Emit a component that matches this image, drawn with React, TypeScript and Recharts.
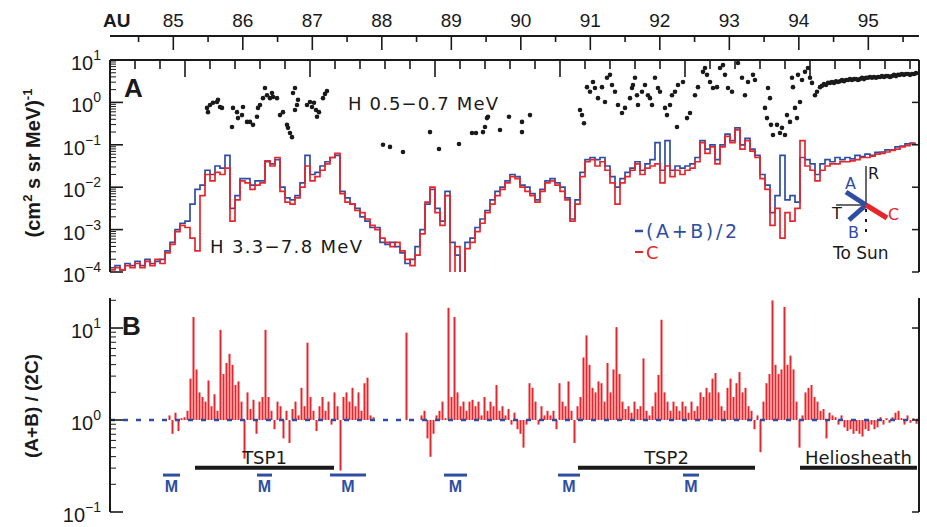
import React from "react";
import {
  ComposedChart,
  Line,
  Scatter,
  Bar,
  XAxis,
  YAxis,
  ReferenceLine,
  Customized,
} from "recharts";

// sampling of the 3.3-7.8 MeV curves (years), one value every 0.02 yr
const T0 = 2002.2;
const DT = 0.02;
// sampling of the (A+B)/(2C) ratio, one value every 0.012 yr
const R0 = 2002.44;
const RDT = 0.012;

const timeDomain = [2002.2, 2005.436];
const auDomain = [84.089, 95.729];

const timeTicks = [
  2002.3, 2002.4, 2002.5, 2002.6, 2002.7, 2002.8, 2002.9, 2003.0, 2003.1,
  2003.2, 2003.3, 2003.4, 2003.5, 2003.6, 2003.7, 2003.8, 2003.9, 2004.0,
  2004.1, 2004.2, 2004.3, 2004.4, 2004.5, 2004.6, 2004.7, 2004.8, 2004.9,
  2005.0, 2005.1, 2005.2, 2005.3, 2005.4,
];
const auTicks = [
  84.5, 85, 85.5, 86, 86.5, 87, 87.5, 88, 88.5, 89, 89.5, 90, 90.5, 91, 91.5,
  92, 92.5, 93, 93.5, 94, 94.5, 95, 95.5,
];
const decadesA = [1e-4, 1e-3, 1e-2, 1e-1, 1, 10];
const decadesB = [0.1, 1, 10];
const minorSteps = [2, 3, 4, 5, 6, 7, 8, 9];

// log10 of intensity, C telescope (red)
const cLog = [
  -3.95, -3.9, -3.95, -3.85, -3.9, -3.8, -3.9, -3.75, -3.85, -3.7,
  -3.8, -3.55, -3.35, -3.05, -2.9, -2.95, -3.2, -3.5, -2.2, -1.7,
  -1.85, -1.65, -1.7, -1.55, -2.8, -2.3, -1.85, -1.9, -2.05, -1.95,
  -1.9, -1.38, -1.5, -1.3, -2.1, -2.35, -2.4, -2.25, -2.0, -1.5,
  -1.85, -1.75, -1.6, -1.45, -1.3, -1.2, -2.15, -2.35, -2.4, -2.55,
  -2.6, -2.75, -2.9, -3.0, -3.2, -3.3, -3.4, -3.3, -3.5, -3.7,
  -3.85, -3.6, -3.1, -2.35, -2.0, -2.6, -2.9, -2.2, -4.3, -3.4,
  -4.3, -3.45, -3.3, -3.05, -2.85, -2.6, -2.4, -2.2, -2.05, -1.9,
  -1.75, -1.8, -2.0, -2.1, -2.2, -2.35, -2.1, -1.9, -1.85, -1.95,
  -2.1, -2.3, -2.8, -2.4, -1.75, -1.4, -1.35, -1.5, -1.4, -1.6,
  -1.9, -2.4, -1.9, -1.75, -1.6, -1.45, -1.7, -1.55, -1.5, -1.45,
  -1.9, -1.5, -1.75, -1.6, -1.7, -1.6, -1.55, -1.4, -0.95, -1.2,
  -1.05, -1.45, -1.05, -0.8, -0.95, -0.65, -1.1, -0.9, -1.15, -1.3,
  -1.8, -2.05, -2.9, -2.5, -3.2, -2.6, -2.8, -2.5, -0.9, -1.5,
  -1.6, -1.85, -1.6, -1.5, -1.45, -1.45, -1.4, -1.4, -1.38, -1.35,
  -1.3, -1.3, -1.27, -1.22, -1.2, -1.17, -1.13, -1.1, -1.05, -1.02,
  -0.98, -0.95,
];

// log10 of intensity, (A+B)/2 (blue)
const abLog = [
  -3.9, -3.85, -3.95, -3.8, -3.85, -3.75, -3.85, -3.7, -3.8, -3.75,
  -3.7, -3.5, -3.3, -3.0, -2.85, -2.8, -2.4, -2.05, -1.95, -1.6,
  -1.7, -1.5, -1.55, -1.25, -2.5, -2.2, -1.8, -1.8, -1.95, -1.85,
  -1.85, -1.4, -1.45, -1.35, -2.0, -2.25, -2.3, -2.2, -1.9, -1.25,
  -1.7, -1.65, -1.5, -1.4, -1.3, -1.25, -2.1, -2.25, -2.4, -2.5,
  -2.7, -2.8, -2.95, -2.95, -3.3, -3.35, -3.3, -3.4, -3.55, -3.8,
  -3.7, -3.4, -3.0, -2.4, -2.05, -2.5, -2.8, -2.1, -3.3, -3.6,
  -4.2, -3.3, -3.2, -2.95, -2.75, -2.55, -2.3, -2.1, -2.0, -1.85,
  -1.7, -1.75, -1.95, -2.0, -2.15, -2.3, -2.05, -1.85, -1.8, -1.9,
  -2.0, -2.25, -2.75, -2.3, -1.65, -1.35, -1.3, -1.35, -1.3, -1.5,
  -1.75, -2.0, -1.8, -1.65, -1.55, -1.4, -1.6, -1.45, -1.35, -0.95,
  -1.6, -0.9, -1.6, -1.5, -1.55, -1.5, -1.45, -1.3, -0.9, -1.1,
  -1.0, -1.35, -1.0, -0.75, -0.9, -0.6, -1.0, -0.85, -1.1, -1.25,
  -1.7, -1.95, -2.6, -2.2, -1.25, -2.3, -2.2, -2.35, -1.3, -1.35,
  -1.45, -1.7, -1.45, -1.35, -1.4, -1.3, -1.35, -1.3, -1.33, -1.25,
  -1.28, -1.22, -1.25, -1.18, -1.17, -1.12, -1.12, -1.05, -1.03, -0.98,
  -0.96, -0.95,
];

// H 0.5-0.7 MeV points: [year, log10 intensity]
const lowDots = [
  [2002.588, -0.13], [2002.592, -0.23], [2002.6, -0.06], [2002.612, -0.01],
  [2002.628, 0.01], [2002.632, 0.06], [2002.64, -0.11], [2002.648, -0.13],
  [2002.688, -0.58], [2002.692, -0.13], [2002.708, -0.23], [2002.712, -0.37],
  [2002.728, -0.3], [2002.732, -0.11], [2002.748, -0.46], [2002.76, -0.46],
  [2002.772, -0.53], [2002.788, -0.34], [2002.792, -0.13], [2002.8, -0.06],
  [2002.812, 0.1], [2002.82, 0.34], [2002.828, 0.17], [2002.84, 0.1],
  [2002.848, 0.22], [2002.852, 0.13], [2002.868, 0.1], [2002.88, -0.3],
  [2002.892, -0.23], [2002.908, -0.53], [2002.912, -0.6], [2002.92, -0.72],
  [2002.928, -0.82], [2002.932, 0.22], [2002.94, 0.34], [2002.94, -0.18],
  [2002.948, -0.06], [2002.952, 0.06], [2002.988, -0.06], [2003.0, 0.01],
  [2003.008, -0.11], [2003.016, -0.01], [2003.024, -0.18], [2003.028, -0.34],
  [2003.036, -0.23], [2003.052, 0.1], [2003.06, 0.2], [2003.068, 0.27],
  [2003.292, -1.0], [2003.32, -1.05], [2003.372, -1.17], [2003.48, -0.7],
  [2003.516, -1.1], [2003.596, -0.98], [2003.648, -0.72], [2003.664, -0.72],
  [2003.692, -0.7], [2003.7, -0.58], [2003.708, -0.37], [2003.712, -0.34],
  [2003.76, -0.65], [2003.796, -0.34], [2003.848, -0.46], [2003.848, -0.7],
  [2003.88, -0.3],
  [2004.08, -0.18], [2004.088, -0.3], [2004.096, -0.49], [2004.108, 0.36],
  [2004.12, 0.25], [2004.132, 0.48], [2004.14, 0.34], [2004.152, 0.1],
  [2004.168, 0.36], [2004.18, 0.01], [2004.188, 0.58], [2004.2, 0.65],
  [2004.208, 0.41], [2004.22, 0.25], [2004.232, -0.06], [2004.248, -0.25],
  [2004.26, -0.13], [2004.28, 0.1], [2004.288, 0.34], [2004.292, 0.41],
  [2004.3, 0.58], [2004.308, 0.17], [2004.312, -0.06], [2004.328, 0.25],
  [2004.34, 0.41], [2004.352, 0.17], [2004.36, 0.1], [2004.368, -0.06],
  [2004.38, 0.58], [2004.392, 0.34], [2004.4, 0.25], [2004.42, -0.13],
  [2004.428, -0.3], [2004.44, -0.06], [2004.448, 0.17], [2004.46, 0.25],
  [2004.468, -0.58], [2004.472, 0.41], [2004.492, 0.48], [2004.508, -0.37],
  [2004.52, -0.25], [2004.54, 0.17], [2004.552, 0.36], [2004.572, 0.72],
  [2004.58, 0.81], [2004.588, 0.65], [2004.6, 0.48], [2004.612, 0.34],
  [2004.628, 0.36], [2004.64, 0.81], [2004.652, 0.88], [2004.66, 0.65],
  [2004.672, 0.34], [2004.688, 0.25], [2004.712, 0.93], [2004.728, 0.58],
  [2004.74, 0.17], [2004.752, 0.48], [2004.772, 0.65], [2004.78, 0.53],
  [2004.82, -0.13], [2004.828, -0.37], [2004.832, 0.34], [2004.84, 0.1],
  [2004.844, -0.53], [2004.852, -0.77], [2004.868, -0.53], [2004.88, -0.72],
  [2004.888, -0.6], [2004.9, -0.77], [2004.908, -0.3], [2004.92, -0.46],
  [2004.928, 0.58], [2004.932, 0.36], [2004.94, -0.13], [2004.948, -0.37],
  [2004.952, 0.65], [2004.96, 0.01], [2004.968, 0.53], [2004.98, 0.72],
  [2004.992, 0.81], [2005.0, 0.58], [2005.008, 0.46], [2005.02, 0.17],
  [2005.028, 0.25], [2005.04, 0.36],
  [2005.048, 0.39], [2005.056, 0.43], [2005.064, 0.41], [2005.072, 0.46],
  [2005.08, 0.46], [2005.088, 0.48], [2005.096, 0.46], [2005.104, 0.5],
  [2005.112, 0.48], [2005.12, 0.5], [2005.128, 0.53], [2005.136, 0.5],
  [2005.144, 0.53], [2005.152, 0.53], [2005.16, 0.55], [2005.168, 0.53],
  [2005.176, 0.55], [2005.184, 0.55], [2005.192, 0.53], [2005.2, 0.55],
  [2005.208, 0.58], [2005.216, 0.55], [2005.224, 0.58], [2005.232, 0.58],
  [2005.24, 0.6], [2005.248, 0.58], [2005.256, 0.6], [2005.264, 0.58],
  [2005.272, 0.6], [2005.28, 0.6], [2005.288, 0.62], [2005.296, 0.6],
  [2005.304, 0.62], [2005.312, 0.62], [2005.32, 0.6], [2005.328, 0.62],
  [2005.336, 0.65], [2005.344, 0.62], [2005.352, 0.65], [2005.36, 0.65],
  [2005.368, 0.67], [2005.376, 0.65], [2005.384, 0.67], [2005.392, 0.67],
  [2005.4, 0.65], [2005.408, 0.67], [2005.416, 0.67], [2005.424, 0.69],
];

// log10 of (A+B)/(2C); null = no data
const ratioLog = [
  0.05, -0.15, 0.08, -0.12, 0.02, 0.03, 0.1, 0.45, 1.12, 0.55,
  0.3, 0.25, 0.2, 0.43, 0.15, 0.28, 0.1, 0.98, 0.5, 0.62,
  0.72, 0.6, 0.38, 0.42, 0.2, -0.42, 0.3, 0.12, 0.22, -0.15,
  0.2, 0.25, 0.98, 0.25, 0.1, -0.1, 0.2, 0.15, -0.2, 0.1,
  -0.25, 0.12, 0.2, 0.05, 0.35, 0.15, 0.84, 0.25, 0.1, -0.12,
  0.15, 0.25, 0.1, 0.2, -0.05, 0.3, 0.15, -0.55, 0.25, 0.3,
  0.2, 0.35, 0.15, 0.3, 0.1, 0.4, 0.46, 0.05, 0.03, null,
  null, null, null, null, null, null, null, null, null, 0.95,
  null, null, null, null, 0.05, 0.1, -0.2, -0.4, -0.15, 0.05,
  0.1, 0.2, 0.02, 1.22, 0.25, 1.12, 0.3, 0.15, 0.2, 0.1,
  0.2, 0.22, 0.15, 0.2, 0.05, 0.25, 0.1, 0.2, 0.15, 0.38,
  0.1, 0.15, 0.05, 0.12, -0.05, 0.08, -0.1, -0.15, -0.3, -0.05,
  0.4, 0.35, 0.2, -0.05, 0.15, 0.05, 0.1, 0.05, 0.1, -0.1,
  0.4, 0.2, 0.15, 0.42, 0.1, -0.25, 0.15, 0.25, 0.68, 0.92,
  0.6, 0.35, 0.3, 0.42, 0.4, 0.2, 0.62, 0.3, 0.55, 1.01,
  0.5, 0.2, 0.12, 0.15, 0.08, 0.2, 0.12, 0.15, 0.67, 0.1,
  0.05, 0.15, 0.3, 0.49, 1.09, 0.3, 0.2, 0.1, 0.2, 0.15,
  0.1, 0.2, 0.15, 0.08, 0.2, 0.1, 0.15, 0.3, 0.25, 0.35,
  0.3, 0.45, 0.51, 0.3, 0.15, 0.1, 0.35, 0.45, 0.25, 0.4,
  0.52, 0.3, 0.35, 0.15, 0.1, -0.1, 0.05, -0.35, 0.2, 0.4,
  0.5, 1.3, 0.6, 0.5, 0.55, 1.23, 0.6, 0.7, 0.55, 0.2,
  -0.3, 0.05, 0.3, 0.35, 0.38, 0.25, 0.2, 0.1, 0.12, -0.2,
  0.08, 0.05, 0.03, -0.05, 0.05, -0.08, -0.12, -0.1, -0.15, -0.12,
  -0.15, -0.18, -0.1, -0.12, -0.05, -0.1, -0.08, 0.03, -0.05, 0.02,
  -0.03, 0.03, 0.08, 0.1, 0.02, -0.05, 0.05, -0.03, 0.02, -0.04,
];

const periods = [
  { label: "TSP1", start: 2002.54, end: 2003.096 },
  { label: "TSP2", start: 2004.072, end: 2004.78 },
  { label: "Heliosheath", start: 2004.96, end: 2005.428 },
];
const PERIOD_LEVEL = 0.303;

const mMarks = [
  [2002.412, 2002.48],
  [2002.788, 2002.848],
  [2003.08, 2003.224],
  [2003.536, 2003.628],
  [2003.992, 2004.08],
  [2004.492, 2004.556],
];
const M_LEVEL = 0.252;

const BLUE = "#2f4ea3";
const RED = "#e8252b";
const INK = "#1a1a1a";
const AXIS_FONT = "'Liberation Sans', Arial, sans-serif";
const NOTE_FONT = "'DejaVu Sans', 'Liberation Sans', sans-serif";

const lineData = cLog.map((c, i) => ({
  t: T0 + i * DT,
  c: Math.pow(10, c),
  ab: Math.pow(10, abLog[i]),
}));
const dotData = lowDots.map(([t, v]) => ({ t, v: Math.pow(10, v) }));
const ratioData = ratioLog
  .map((r, j) => (r === null ? null : { t: R0 + j * RDT, r: Math.pow(10, r) }))
  .filter((d) => d !== null);

const withMinors = (decades: number[], top: number) => {
  const out: number[] = [];
  decades.forEach((d) => {
    out.push(d);
    minorSteps.forEach((m) => {
      if (m * d <= top) out.push(m * d);
    });
  });
  return out;
};
const yTicksA = withMinors(decadesA, 10);
const yTicksB = withMinors(decadesB, 21);

const isDecade = (v: number) =>
  Math.abs(Math.log10(v) - Math.round(Math.log10(v))) < 1e-6;
const isHalfYear = (v: number) => Math.abs(v * 2 - Math.round(v * 2)) < 1e-6;
const isWhole = (v: number) => Math.abs(v - Math.round(v)) < 1e-6;

const LeftTick = (props: any) => {
  const { x, y, payload } = props;
  const v = payload.value;
  const major = isDecade(v);
  const e = Math.round(Math.log10(v));
  return (
    <g>
      <line x1={x} x2={x + (major ? 13 : 6)} y1={y} y2={y} stroke={INK} strokeWidth={major ? 1.6 : 1} />
      {major && (
        <text x={x - 9} y={y + 10} textAnchor="end" fontSize={20} fontFamily={AXIS_FONT} fill={INK}>
          10
          <tspan dy={-10} fontSize={14}>
            {e < 0 ? `\u2212${-e}` : `${e}`}
          </tspan>
        </text>
      )}
    </g>
  );
};

const RightTick = (props: any) => {
  const { x, y } = props;
  return <line x1={x} x2={x - 7} y1={y} y2={y} stroke={INK} strokeWidth={1.5} />;
};

const BottomTick = (props: any) => {
  const { x, y, payload } = props;
  const len = isHalfYear(payload.value) ? 17 : 9;
  return <line x1={x} x2={x} y1={y} y2={y - len} stroke={INK} strokeWidth={1.6} />;
};

const TopTick = (props: any) => {
  const { x, y, payload } = props;
  const len = isHalfYear(payload.value) ? 17 : 9;
  return <line x1={x} x2={x} y1={y} y2={y + len} stroke={INK} strokeWidth={1.6} />;
};

const AuTick = (props: any) => {
  const { x, y, payload } = props;
  const whole = isWhole(payload.value);
  return (
    <g>
      <line x1={x} x2={x} y1={y} y2={y + (whole ? 14 : 6)} stroke={INK} strokeWidth={1.6} />
      {whole && (
        <text x={x} y={y - 9} textAnchor="middle" fontSize={19} fontFamily={AXIS_FONT} fill={INK}>
          {payload.value}
        </text>
      )}
    </g>
  );
};

const DotShape = (props: any) => <circle cx={props.cx} cy={props.cy} r={2.3} fill={INK} />;

const axisLine = { stroke: INK, strokeWidth: 2 };

const DecorA = () => (
  <g>
    <text x={103} y={27} fontSize={19} fontWeight="bold" fontFamily={AXIS_FONT} fill={INK}>
      AU
    </text>
    <text x={124} y={97} fontSize={26} fontWeight="bold" fontFamily={AXIS_FONT} fill={INK}>
      A
    </text>
    <text
      transform="translate(40,163) rotate(-90)"
      textAnchor="middle"
      fontSize={20}
      fontWeight="bold"
      fontFamily={AXIS_FONT}
      fill={INK}
    >
      (cm<tspan dy={-8} fontSize={13}>2</tspan>
      <tspan dy={8}> s sr MeV)</tspan>
      <tspan dy={-8} fontSize={13}>-1</tspan>
    </text>
    <text x={348} y={110} fontSize={18} fontFamily={NOTE_FONT} fill={INK} textLength={150}>
      H 0.5−0.7 MeV
    </text>
    <text x={210} y={253} fontSize={18} fontFamily={NOTE_FONT} fill={INK} textLength={152}>
      H 3.3−7.8 MeV
    </text>
    <line x1={635} x2={643} y1={231} y2={231} stroke={BLUE} strokeWidth={2.5} />
    <text x={646} y={238} fontSize={19} fontFamily={NOTE_FONT} fill={BLUE} textLength={91}>
      (A+B)/2
    </text>
    <line x1={635} x2={643} y1={252} y2={252} stroke={RED} strokeWidth={2} />
    <text x={646} y={259} fontSize={18} fontFamily={NOTE_FONT} fill={RED}>
      C
    </text>
    <line x1={866} x2={866} y1={166} y2={205} stroke={INK} strokeWidth={1.3} />
    <line x1={866} x2={866} y1={209} y2={236} stroke={INK} strokeWidth={2} strokeDasharray="3 7" />
    <line x1={836} x2={866} y1={205} y2={205} stroke={INK} strokeWidth={1.3} />
    <line x1={866} x2={846} y1={205} y2={192} stroke={BLUE} strokeWidth={5} />
    <line x1={866} x2={849} y1={205} y2={220} stroke={BLUE} strokeWidth={5} />
    <line x1={866} x2={887} y1={205} y2={218} stroke={RED} strokeWidth={5} />
    <text x={868} y={179} fontSize={16} fontFamily={NOTE_FONT} fill={INK}>R</text>
    <text x={832} y={219} fontSize={16} fontFamily={NOTE_FONT} fill={INK}>T</text>
    <text x={845} y={189} fontSize={16} fontFamily={NOTE_FONT} fill={BLUE}>A</text>
    <text x={848} y={238} fontSize={16} fontFamily={NOTE_FONT} fill={BLUE}>B</text>
    <text x={888} y={220} fontSize={16} fontFamily={NOTE_FONT} fill={RED}>C</text>
    <text x={833} y={259} fontSize={17} fontFamily={NOTE_FONT} fill={INK}>To Sun</text>
  </g>
);

const DecorB = () => (
  <g>
    <text x={122} y={55} fontSize={26} fontWeight="bold" fontFamily={AXIS_FONT} fill={INK}>
      B
    </text>
    <text
      transform="translate(38,126) rotate(-90)"
      textAnchor="middle"
      fontSize={19}
      fontWeight="bold"
      fontFamily={AXIS_FONT}
      fill={INK}
    >
      (A+B) / (2C)
    </text>
  </g>
);

export default function App() {
  return (
    <div style={{ position: "absolute", left: 0, top: 0, width: 927, height: 527, background: "#fff" }}>
      <div style={{ position: "absolute", left: 0, top: 0 }}>
        <ComposedChart width={927} height={292} data={lineData} margin={{ top: 6, right: 7, bottom: 20, left: 70 }}>
          <XAxis
            dataKey="t"
            type="number"
            domain={timeDomain}
            allowDataOverflow
            ticks={timeTicks}
            interval={0}
            height={0}
            tickSize={0}
            tickMargin={0}
            tick={BottomTick}
            tickLine={false}
            axisLine={axisLine}
          />
          <XAxis
            xAxisId="inner"
            dataKey="t"
            type="number"
            orientation="top"
            domain={timeDomain}
            allowDataOverflow
            ticks={timeTicks}
            interval={0}
            height={24}
            tickSize={0}
            tickMargin={0}
            tick={TopTick}
            tickLine={false}
            axisLine={axisLine}
          />
          <XAxis
            xAxisId="outer"
            dataKey="t"
            type="number"
            orientation="top"
            domain={auDomain}
            allowDataOverflow
            ticks={auTicks}
            interval={0}
            height={30}
            tickSize={0}
            tickMargin={0}
            tick={AuTick}
            tickLine={false}
            axisLine={axisLine}
          />
          <YAxis
            scale="log"
            type="number"
            domain={[1e-4, 10]}
            allowDataOverflow
            ticks={yTicksA}
            interval={0}
            width={40}
            tickSize={0}
            tickMargin={0}
            tick={LeftTick}
            tickLine={false}
            axisLine={axisLine}
          />
          <YAxis
            yAxisId="r"
            orientation="right"
            scale="log"
            type="number"
            domain={[1e-4, 10]}
            allowDataOverflow
            ticks={decadesA}
            interval={0}
            width={1}
            tickSize={0}
            tickMargin={0}
            tick={RightTick}
            tickLine={false}
            axisLine={axisLine}
          />
          <Line dataKey="ab" type="stepAfter" stroke={BLUE} strokeWidth={1.7} dot={false} isAnimationActive={false} />
          <Line dataKey="c" type="stepAfter" stroke={RED} strokeWidth={1.7} dot={false} isAnimationActive={false} />
          <Scatter data={dotData} dataKey="v" shape={DotShape} isAnimationActive={false} />
          <Customized component={DecorA} />
        </ComposedChart>
      </div>
      <div style={{ position: "absolute", left: 0, top: 280 }}>
        <ComposedChart width={927} height={247} data={ratioData} margin={{ top: 18, right: 7, bottom: 15, left: 70 }}>
          <XAxis
            dataKey="t"
            type="number"
            domain={timeDomain}
            allowDataOverflow
            ticks={timeTicks}
            interval={0}
            height={0}
            tickSize={0}
            tickMargin={0}
            tick={BottomTick}
            tickLine={false}
            axisLine={axisLine}
          />
          <XAxis
            xAxisId="inner"
            dataKey="t"
            type="number"
            orientation="top"
            domain={timeDomain}
            allowDataOverflow
            ticks={timeTicks}
            interval={0}
            height={0}
            tickSize={0}
            tickMargin={0}
            tick={TopTick}
            tickLine={false}
            axisLine={axisLine}
          />
          <YAxis
            scale="log"
            type="number"
            domain={[0.1, 21.2]}
            allowDataOverflow
            ticks={yTicksB}
            interval={0}
            width={40}
            tickSize={0}
            tickMargin={0}
            tick={LeftTick}
            tickLine={false}
            axisLine={axisLine}
          />
          <YAxis
            yAxisId="r"
            orientation="right"
            scale="log"
            type="number"
            domain={[0.1, 21.2]}
            allowDataOverflow
            ticks={decadesB}
            interval={0}
            width={1}
            tickSize={0}
            tickMargin={0}
            tick={RightTick}
            tickLine={false}
            axisLine={axisLine}
          />
          <Bar dataKey={(d: any) => [1, d.r]} fill={RED} barSize={2} isAnimationActive={false} />
          <ReferenceLine y={1} stroke={BLUE} strokeWidth={2.5} strokeDasharray="5 8" />
          {periods.map((p) => (
            <ReferenceLine
              key={p.label}
              segment={[
                { x: p.start, y: PERIOD_LEVEL },
                { x: p.end, y: PERIOD_LEVEL },
              ]}
              stroke={INK}
              strokeWidth={4}
              label={{ value: p.label, position: "top", offset: 4, fontSize: 18, fontFamily: NOTE_FONT, fill: INK }}
            />
          ))}
          {mMarks.map(([a, b]) => (
            <ReferenceLine
              key={a}
              segment={[
                { x: a, y: M_LEVEL },
                { x: b, y: M_LEVEL },
              ]}
              stroke={BLUE}
              strokeWidth={3}
              label={{ value: "M", position: "bottom", offset: 6, fontSize: 16, fontWeight: "bold", fontFamily: AXIS_FONT, fill: BLUE }}
            />
          ))}
          <Customized component={DecorB} />
        </ComposedChart>
      </div>
    </div>
  );
}
